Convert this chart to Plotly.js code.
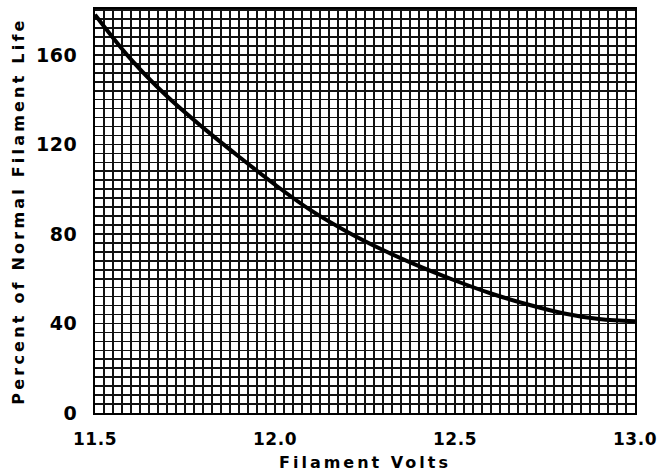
<!DOCTYPE html>
<html>
<head>
<meta charset="utf-8">
<script src="https://cdn.plot.ly/plotly-3.0.1.min.js"></script>
<style>
html,body{margin:0;padding:0;background:#fff;}
#chart{width:659px;height:476px;}
.ytitle{letter-spacing:3.2px;}
.xtitle{letter-spacing:3px;}
.xtick text,.ytick text{letter-spacing:0.5px;}
</style>
</head>
<body>
<div id="chart"></div>
<script>
// Data
const volts = [11.50, 11.60, 11.70, 11.80, 11.90, 12.00, 12.10, 12.20, 12.30, 12.40, 12.50, 12.60, 12.70, 12.80, 12.90, 13.00];
const lifePercent = [178, 158, 141.5, 127.5, 114.5, 102, 90.5, 81, 72.8, 65.6, 59.2, 53.4, 48.6, 44.6, 42, 41];
const xTickVals = [11.5, 12.0, 12.5, 13.0];
const xTickText = ["11.5", "12.0", "12.5", "13.0"];
const yTickVals = [0, 40, 80, 120, 160];
const yTickText = ["0", "40", "80", "120", "160"];

const fontFam = "'DejaVu Sans', 'Liberation Sans', sans-serif";

const trace = {
  x: volts,
  y: lifePercent,
  type: 'scatter',
  mode: 'lines',
  line: {color: '#000', width: 4, shape: 'spline', smoothing: 1},
  hoverinfo: 'skip'
};

const layout = {
  width: 659,
  height: 476,
  margin: {l: 95, r: 24, t: 9, b: 63},
  paper_bgcolor: '#fff',
  plot_bgcolor: '#fff',
  showlegend: false,
  xaxis: {
    range: [11.5, 13.0],
    tickvals: xTickVals,
    ticktext: xTickText,
    ticks: '',
    ticklabelstandoff: 10,
    showgrid: true,
    gridcolor: '#111',
    gridwidth: 1.6,
    zeroline: false,
    showline: true,
    mirror: true,
    linecolor: '#000',
    linewidth: 2,
    tickfont: {family: fontFam, size: 17, color: '#000', weight: 'bold'},
    minor: {dtick: 0.025, tick0: 11.5, showgrid: true, gridcolor: '#111', gridwidth: 1.6, ticks: ''},
    title: {text: 'Filament Volts', font: {family: fontFam, size: 16, color: '#000', weight: 'bold'}, standoff: 8},
    fixedrange: true
  },
  yaxis: {
    range: [0, 180.5],
    tickvals: yTickVals,
    ticktext: yTickText,
    ticks: '',
    ticklabelstandoff: 12,
    showgrid: true,
    gridcolor: '#111',
    gridwidth: 1.6,
    zeroline: false,
    showline: true,
    mirror: true,
    linecolor: '#000',
    linewidth: 2,
    tickfont: {family: fontFam, size: 19, color: '#000', weight: 'bold'},
    minor: {dtick: 4, tick0: 0, showgrid: true, gridcolor: '#111', gridwidth: 1.6, ticks: ''},
    title: {text: 'Percent of Normal Filament Life', font: {family: fontFam, size: 16, color: '#000', weight: 'bold'}, standoff: 7},
    fixedrange: true
  }
};

Plotly.newPlot('chart', [trace], layout, {displayModeBar: false, staticPlot: true});
</script>
</body>
</html>
